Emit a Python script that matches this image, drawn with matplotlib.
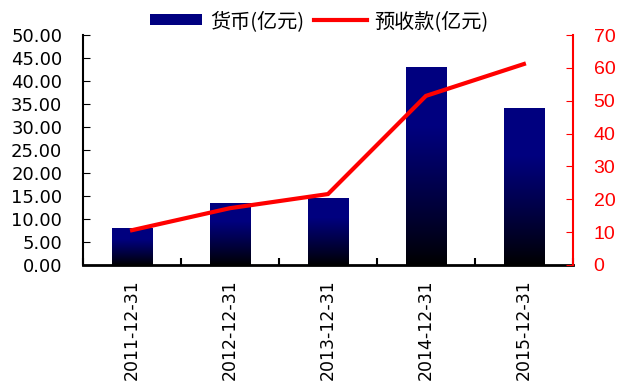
import numpy as np
import matplotlib.pyplot as plt
from matplotlib.patches import Patch
from matplotlib.lines import Line2D

plt.rcParams['font.family'] = ['DejaVu Sans', 'Noto Sans CJK SC']

dates = ['2011-12-31', '2012-12-31', '2013-12-31', '2014-12-31', '2015-12-31']
cash = [8.0, 13.5, 14.6, 43.1, 34.1]          # 货币(亿元)
advance = [10.6, 17.3, 21.6, 51.5, 61.2]      # 预收款(亿元)

navy = (0.0, 0.0, 0.5)

fig = plt.figure(figsize=(6.2, 3.86), dpi=100)
ax = fig.add_axes([0.134, 0.3135, 0.790, 0.5955])
ax2 = ax.twinx()

x = np.arange(len(dates))
bar_w = 0.41

# bars: plain rectangles, then a vertical navy->black gradient clipped to each
bars = ax.bar(x, cash, width=bar_w, color=navy, zorder=2)
t = np.linspace(0, 1, 256).reshape(-1, 1)          # 0 bottom, 1 top
k = np.clip(t / 0.7, 0, 1) ** 0.9
grad = np.dstack([np.zeros_like(k), np.zeros_like(k), 0.5 * k])
for b in bars:
    x0 = b.get_x()
    h = b.get_height()
    im = ax.imshow(grad, extent=(x0, x0 + bar_w, 0, h), origin='lower',
                   aspect='auto', zorder=3)
    im.set_clip_path(b)

ax.set_xlim(-0.5, len(dates) - 0.5)
ax.set_ylim(0, 50)
ax.set_yticks(np.arange(0, 51, 5))
ax.set_yticklabels(['%.2f' % v for v in np.arange(0, 51, 5)])
ax.tick_params(axis='y', direction='in', length=5, labelsize=13, pad=15)

ax.set_xticks(x)
ax.set_xticklabels(dates, rotation=90, fontsize=12.5)
ax.set_xticks(np.arange(-0.5, len(dates)), minor=True)
ax.tick_params(axis='x', which='major', length=0, pad=10)
ax.tick_params(axis='x', which='minor', direction='in', length=5, width=1.5)

ax.spines['top'].set_visible(False)
ax.spines['right'].set_visible(False)
ax.spines['bottom'].set_linewidth(2)
ax.spines['left'].set_linewidth(1.5)

# advance receipts on the right axis
ax2.plot(x, advance, color='red', lw=3, solid_joinstyle='miter', zorder=4)
ax2.set_ylim(0, 70)
ax2.set_yticks(np.arange(0, 71, 10))
ax2.tick_params(axis='y', direction='in', length=5, colors='red',
                labelsize=14, pad=15)
for lab in ax2.get_yticklabels():
    lab.set_family('Liberation Sans')
ax2.spines['right'].set_color('red')
ax2.spines['right'].set_linewidth(1.5)
ax2.spines['top'].set_visible(False)
ax2.spines['left'].set_visible(False)
ax2.spines['bottom'].set_visible(False)

handles = [Patch(facecolor=navy, edgecolor='none'),
           Line2D([0], [0], color='red', lw=3)]
fig.legend(handles, ['货币(亿元)', '预收款(亿元)'], loc='center',
           bbox_to_anchor=(0.515, 0.945), ncol=2, frameon=False,
           prop={'family': ['Noto Sans CJK SC', 'DejaVu Sans'], 'size': 14.5},
           handlelength=2.6, handleheight=0.45, handletextpad=0.4,
           columnspacing=0.5)

fig.savefig('out.png', dpi=100)
